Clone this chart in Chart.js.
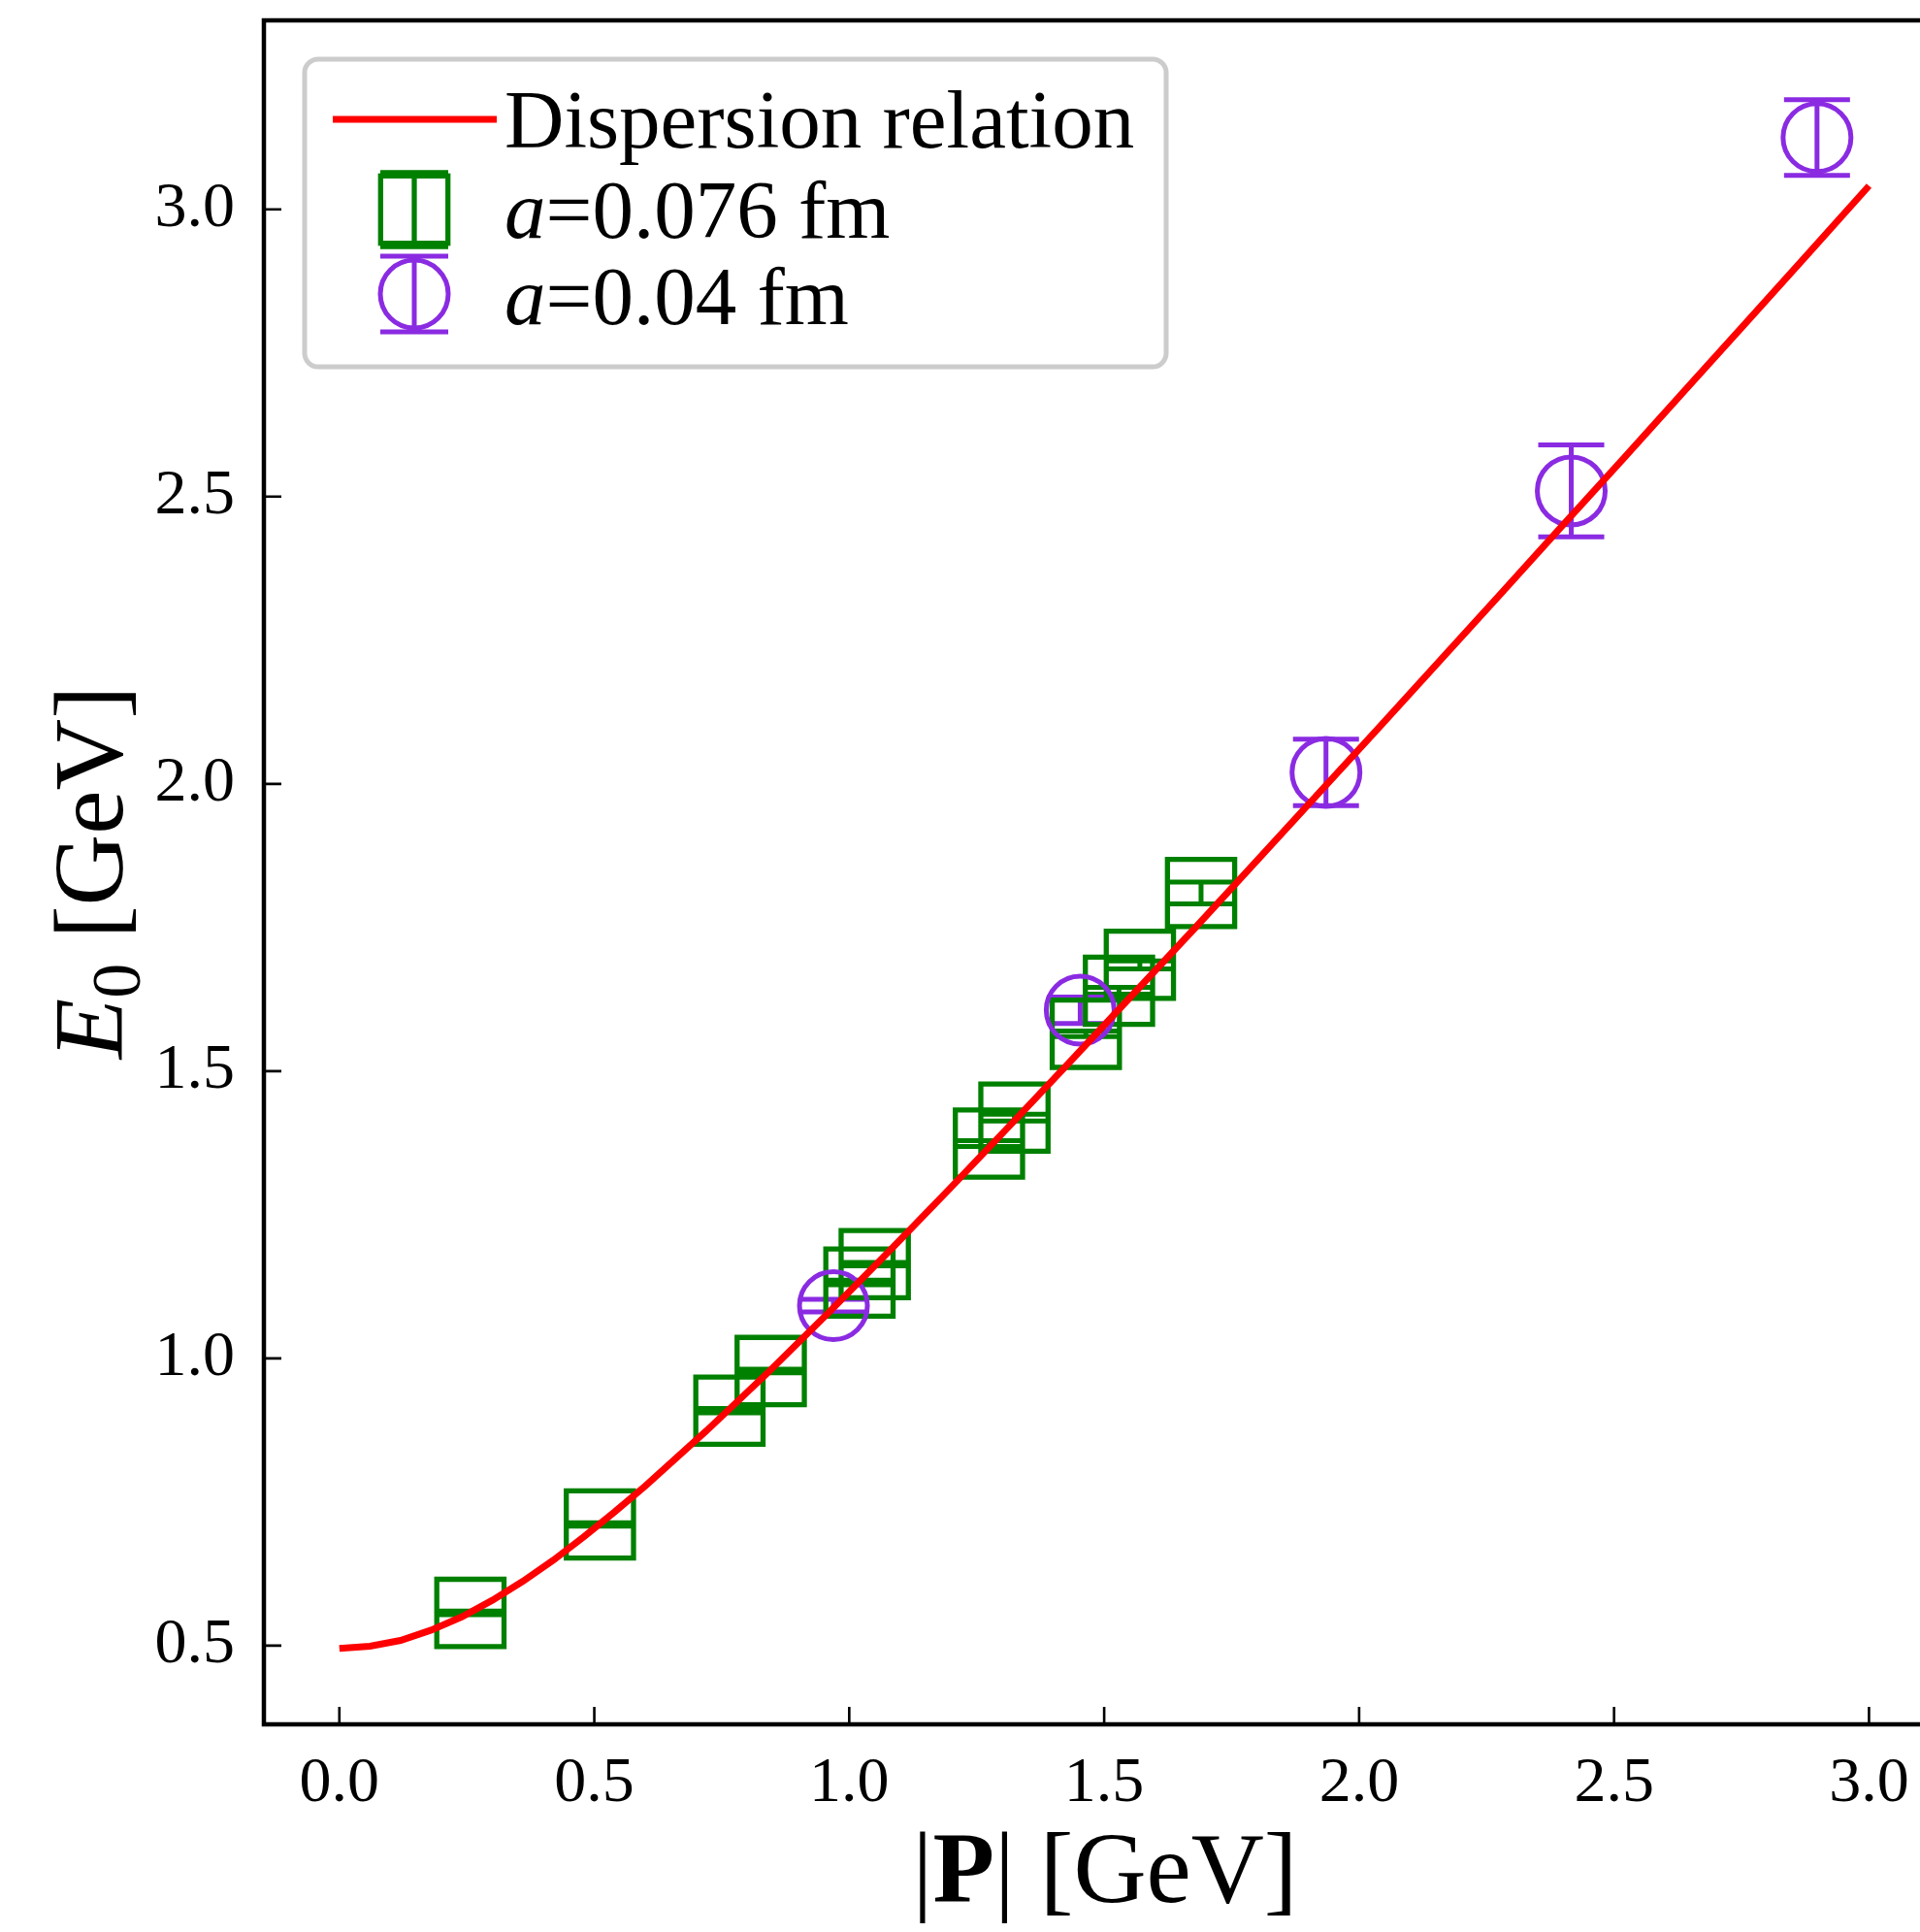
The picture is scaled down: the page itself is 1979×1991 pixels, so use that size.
<!DOCTYPE html>
<html>
<head>
<meta charset="utf-8">
<script src="https://cdn.jsdelivr.net/npm/chart.js@4.4.1/dist/chart.umd.min.js"></script>
<style>
  html, body { margin: 0; padding: 0; background: #fff; }
</style>
</head>
<body>
<canvas id="chart" width="1979" height="1991"></canvas>
<script>
// dispersion relation curve (|P| and E0 in GeV)
const curveP = [0, 0.06, 0.12, 0.18, 0.24, 0.30, 0.36, 0.42, 0.48, 0.54, 0.60, 0.72, 0.84, 0.96, 1.08,
                1.20, 1.32, 1.44, 1.56, 1.68, 1.80, 1.92, 2.04, 2.16, 2.28, 2.40, 2.52, 2.64, 2.76, 2.88, 3.00];
const curveE = [0.495, 0.499, 0.509, 0.527, 0.550, 0.579, 0.612, 0.649, 0.690, 0.733, 0.778, 0.874, 0.975, 1.080, 1.188,
                1.298, 1.410, 1.523, 1.637, 1.751, 1.867, 1.983, 2.099, 2.216, 2.333, 2.451, 2.568, 2.686, 2.804, 2.922, 3.041];

// a = 0.076 fm
const fineP   = [0.257, 0.511, 0.765, 0.846, 1.020, 1.050, 1.274, 1.324, 1.464, 1.529, 1.570, 1.690];
const fineE   = [0.557, 0.711, 0.909, 0.978, 1.132, 1.164, 1.374, 1.419, 1.565, 1.640, 1.685, 1.810];
const fineErr = [0.003, 0.003, 0.004, 0.003, 0.004, 0.003, 0.005, 0.006, 0.005, 0.006, 0.007, 0.019];

// a = 0.04 fm
const coarseP   = [0.969, 1.453, 1.935, 2.416, 2.898];
const coarseE   = [1.092, 1.606, 2.020, 2.510, 3.125];
const coarseErr = [0.011, 0.023, 0.058, 0.080, 0.066];

const xTicks = [0, 0.5, 1.0, 1.5, 2.0, 2.5, 3.0];
const yTicks = [0.5, 1.0, 1.5, 2.0, 2.5, 3.0];

const FONT = "'Liberation Serif', 'Times New Roman', serif";
const RED = '#ff0000', GREEN = '#008000', PURPLE = '#8a2be2';

const toXY = (xs, ys) => xs.map((x, i) => ({ x: x, y: ys[i] }));

// runs of text with different fonts, drawn one after another
function runsWidth(ctx, runs) {
  let w = 0;
  runs.forEach(r => { ctx.font = r.font; w += ctx.measureText(r.text).width; });
  return w;
}
function drawRuns(ctx, runs, x, y) {
  runs.forEach(r => {
    ctx.font = r.font;
    ctx.fillText(r.text, x, y + (r.dy || 0));
    x += ctx.measureText(r.text).width;
  });
}

function errorBar(ctx, px, yLo, yHi, half, color, lw) {
  ctx.strokeStyle = color;
  ctx.lineWidth = lw;
  ctx.beginPath();
  ctx.moveTo(px, yLo); ctx.lineTo(px, yHi);
  ctx.moveTo(px - half, yLo); ctx.lineTo(px + half, yLo);
  ctx.moveTo(px - half, yHi); ctx.lineTo(px + half, yHi);
  ctx.stroke();
}

const errorBars = [
  { ds: 0, err: fineErr, color: GREEN, half: 34, lw: 5 },
  { ds: 1, err: coarseErr, color: PURPLE, half: 34, lw: 5 },
];

const errorPlugin = {
  id: 'errorbars',
  beforeDatasetsDraw(chart) {
    const ctx = chart.ctx, xs = chart.scales.x, ys = chart.scales.y;
    ctx.save();
    errorBars.forEach(eb => {
      chart.data.datasets[eb.ds].data.forEach((p, i) => {
        const px = xs.getPixelForValue(p.x);
        errorBar(ctx, px, ys.getPixelForValue(p.y - eb.err[i]), ys.getPixelForValue(p.y + eb.err[i]),
                 eb.half, eb.color, eb.lw);
      });
    });
    ctx.restore();
  }
};

const framePlugin = {
  id: 'frame',
  afterDraw(chart) {
    const ctx = chart.ctx, a = chart.chartArea, xs = chart.scales.x, ys = chart.scales.y;
    ctx.save();
    // spines
    ctx.strokeStyle = '#000';
    ctx.lineWidth = 4.5;
    ctx.beginPath();
    ctx.moveTo(a.right + 5, a.top); ctx.lineTo(a.left, a.top);
    ctx.lineTo(a.left, a.bottom); ctx.lineTo(a.right + 5, a.bottom);
    ctx.stroke();
    // inward ticks
    ctx.lineWidth = 2.6;
    ctx.beginPath();
    xTicks.forEach(v => {
      const px = xs.getPixelForValue(v);
      ctx.moveTo(px, a.bottom); ctx.lineTo(px, a.bottom - 18);
    });
    yTicks.forEach(v => {
      const py = ys.getPixelForValue(v);
      ctx.moveTo(a.left, py); ctx.lineTo(a.left + 18, py);
    });
    ctx.stroke();

    // axis titles
    ctx.fillStyle = '#000';
    ctx.textBaseline = 'alphabetic';
    const xRuns = [
      { text: '|', font: `104px ${FONT}` },
      { text: 'P', font: `bold 104px ${FONT}` },
      { text: '| [GeV]', font: `104px ${FONT}` },
    ];
    drawRuns(ctx, xRuns, 1139 - runsWidth(ctx, xRuns) / 2, 1960);

    const yRuns = [
      { text: 'E', font: `italic 102px ${FONT}` },
      { text: '0', font: `72px ${FONT}`, dy: 18 },
      { text: ' [GeV]', font: `102px ${FONT}` },
    ];
    ctx.save();
    ctx.translate(126, 899);
    ctx.rotate(-Math.PI / 2);
    drawRuns(ctx, yRuns, -runsWidth(ctx, yRuns) / 2, 0);
    ctx.restore();

    // legend
    ctx.fillStyle = 'rgba(255,255,255,0.8)';
    ctx.strokeStyle = '#cccccc';
    ctx.lineWidth = 5;
    ctx.beginPath();
    ctx.roundRect(314, 61, 888, 317, 14);
    ctx.fill();
    ctx.stroke();

    ctx.strokeStyle = RED;
    ctx.lineWidth = 7;
    ctx.beginPath();
    ctx.moveTo(343, 123); ctx.lineTo(512, 123);
    ctx.stroke();

    ctx.strokeStyle = GREEN;
    ctx.lineWidth = 5.3;
    ctx.strokeRect(427 - 34.7, 216 - 34.7, 69.4, 69.4);
    errorBar(ctx, 427, 178, 254, 35, GREEN, 5.3);

    ctx.strokeStyle = PURPLE;
    ctx.lineWidth = 5;
    ctx.beginPath();
    ctx.arc(427, 303, 35, 0, Math.PI * 2);
    ctx.stroke();
    errorBar(ctx, 427, 264, 342, 35, PURPLE, 5);

    ctx.fillStyle = '#000';
    const LF = 85;
    drawRuns(ctx, [{ text: 'Dispersion relation', font: `${LF}px ${FONT}` }], 520, 152);
    drawRuns(ctx, [{ text: 'a', font: `italic ${LF}px ${FONT}` },
                   { text: '=0.076 fm', font: `${LF}px ${FONT}` }], 520, 245);
    drawRuns(ctx, [{ text: 'a', font: `italic ${LF}px ${FONT}` },
                   { text: '=0.04 fm', font: `${LF}px ${FONT}` }], 520, 334);
    ctx.restore();
  }
};

// keep the chart area fixed: no extra room for overhanging tick labels
const noPad = s => { s.paddingTop = 0; s.paddingBottom = 0; s.paddingLeft = 0; s.paddingRight = 0; };

new Chart(document.getElementById('chart'), {
  type: 'scatter',
  data: {
    datasets: [
      {
        label: 'a=0.076 fm',
        data: toXY(fineP, fineE),
        pointStyle: 'rect',
        pointRadius: 49,
        pointBorderWidth: 5.3,
        borderColor: GREEN,
        backgroundColor: 'rgba(0,0,0,0)',
        order: 3,
      },
      {
        label: 'a=0.04 fm',
        data: toXY(coarseP, coarseE),
        pointStyle: 'circle',
        pointRadius: 35,
        pointBorderWidth: 5,
        borderColor: PURPLE,
        backgroundColor: 'rgba(0,0,0,0)',
        order: 2,
      },
      {
        label: 'Dispersion relation',
        data: toXY(curveP, curveE),
        showLine: true,
        pointRadius: 0,
        borderColor: RED,
        borderWidth: 7,
        tension: 0,
        order: 1,
      },
    ],
  },
  options: {
    responsive: false,
    animation: false,
    devicePixelRatio: 1,
    layout: { autoPadding: false, padding: { top: 21, right: 0, left: 0, bottom: 0 } },
    plugins: {
      legend: { display: false },
      tooltip: { enabled: false },
    },
    scales: {
      x: {
        type: 'linear',
        min: -0.148,
        max: 3.1,
        afterFit: s => { s.height = 214; noPad(s); },
        afterBuildTicks: s => { s.ticks = xTicks.map(v => ({ value: v })); },
        grid: { display: false },
        border: { display: false },
        ticks: {
          font: { family: FONT, size: 66 },
          color: '#000',
          padding: 14,
          maxRotation: 0,
          callback: v => v.toFixed(1),
        },
      },
      y: {
        type: 'linear',
        min: 0.363,
        max: 3.329,
        afterFit: s => { s.width = 272; noPad(s); },
        afterBuildTicks: s => { s.ticks = yTicks.map(v => ({ value: v })); },
        grid: { display: false },
        border: { display: false },
        ticks: {
          font: { family: FONT, size: 66 },
          color: '#000',
          padding: 22,
          callback: v => v.toFixed(1),
        },
      },
    },
  },
  plugins: [errorPlugin, framePlugin],
});
</script>
</body>
</html>
